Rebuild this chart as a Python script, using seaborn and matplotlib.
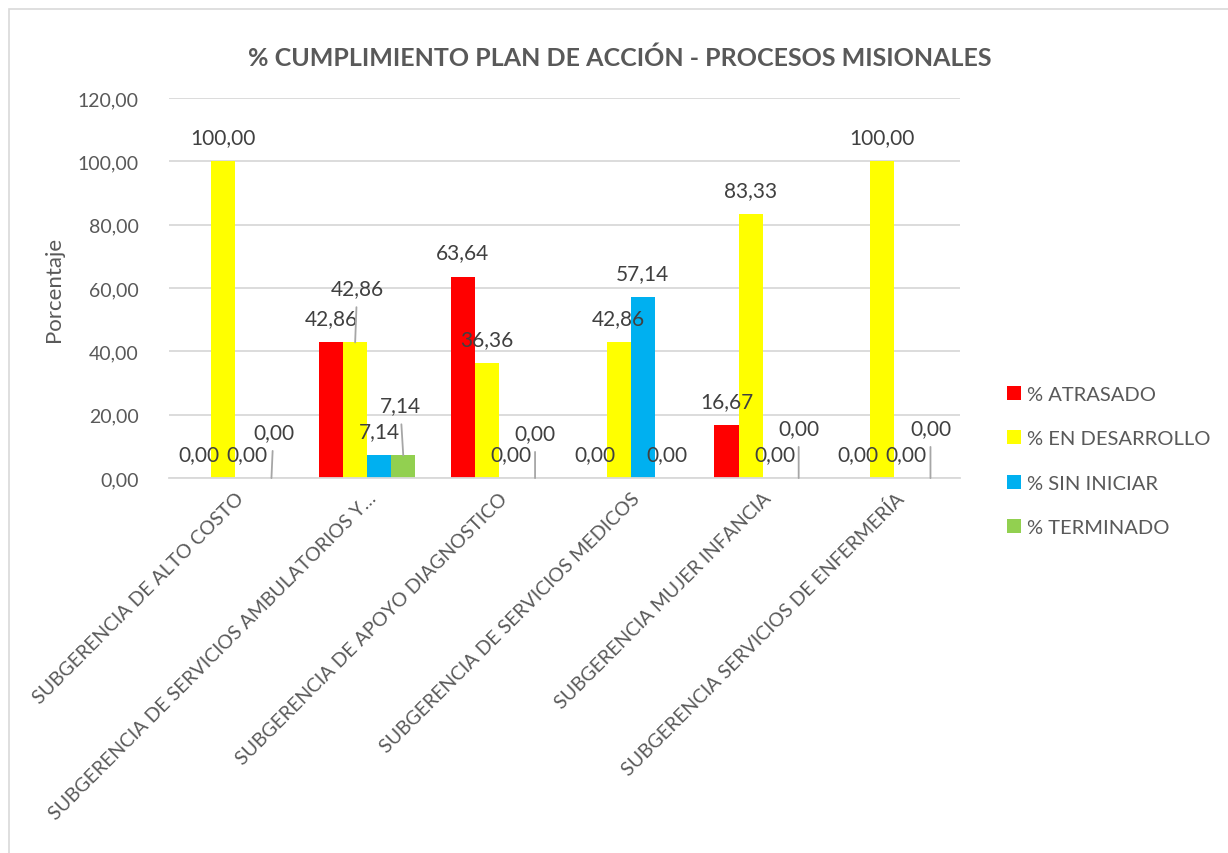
import pandas as pd
import seaborn as sns
import matplotlib.pyplot as plt
from matplotlib.patches import Rectangle

categorias = ['SUBGERENCIA DE ALTO COSTO',
              'SUBGERENCIA DE SERVICIOS AMBULATORIOS Y…',
              'SUBGERENCIA DE APOYO DIAGNOSTICO',
              'SUBGERENCIA DE SERVICIOS MEDICOS',
              'SUBGERENCIA MUJER INFANCIA',
              'SUBGERENCIA SERVICIOS DE ENFERMERÍA']
series = ['% ATRASADO', '% EN DESARROLLO', '% SIN INICIAR', '% TERMINADO']
atrasado = [0.00, 42.86, 63.64, 0.00, 16.67, 0.00]
en_desarrollo = [100.00, 42.86, 36.36, 42.86, 83.33, 100.00]
sin_iniciar = [0.00, 7.14, 0.00, 57.14, 0.00, 0.00]
terminado = [0.00, 7.14, 0.00, 0.00, 0.00, 0.00]
colores = ['#FF0000', '#FFFF00', '#00B0F0', '#92D050']

sns.set_style('white')
plt.rcParams['font.family'] = ['Lato', 'DejaVu Sans']

rows = []
for s, vals in zip(series, [atrasado, en_desarrollo, sin_iniciar, terminado]):
    for c, v in zip(categorias, vals):
        rows.append({'cat': c, 'serie': s, 'valor': v})
df = pd.DataFrame(rows)

fig = plt.figure(figsize=(12.28, 8.54), dpi=100)
ax = fig.add_axes([0.138, 0.439, 0.644, 0.445])

sns.barplot(data=df, x='cat', y='valor', hue='serie', palette=colores,
            width=0.73, saturation=1, errorbar=None, ax=ax, linewidth=0)

ax.set_ylim(0, 120)
ax.set_yticks(range(0, 121, 20))
ax.set_yticklabels(['%d,00' % t for t in range(0, 121, 20)], fontsize=14, color='#595959')
ax.yaxis.grid(True, color='#D9D9D9', linewidth=1.3)
ax.set_axisbelow(True)
for sp in ['top', 'right', 'left']:
    ax.spines[sp].set_visible(False)
ax.spines['bottom'].set_color('#D9D9D9')
ax.spines['bottom'].set_linewidth(1.3)
ax.tick_params(axis='both', length=0)
ax.tick_params(axis='y', pad=22)
ax.set_xlabel('')
ax.set_ylabel('Porcentaje', fontsize=16, color='#595959', labelpad=10)
ax.set_xticks(range(len(categorias)))
ax.set_xticklabels(categorias, rotation=45, ha='right', rotation_mode='anchor',
                   fontsize=14, color='#595959')
ax.tick_params(axis='x', pad=8)

# etiquetas de datos; algunas desplazadas con linea guia
desplazadas = {(3, 0): (2, 46), (1, 1): (2, 54), (3, 1): (-3, 50),
               (3, 2): (0, 45), (3, 4): (0, 50), (3, 5): (0, 50)}
for si, cont in enumerate(ax.containers):
    for ci, bar in enumerate(cont):
        x = bar.get_x() + bar.get_width() / 2
        h = bar.get_height()
        txt = ('%.2f' % h).replace('.', ',')
        if (si, ci) in desplazadas:
            dx, dy = desplazadas[(si, ci)]
            ax.annotate(txt, xy=(x, h), xytext=(dx, dy), textcoords='offset pixels',
                        ha='center', va='center', fontsize=15, color='#404040',
                        arrowprops=dict(arrowstyle='-', color='#A6A6A6', lw=1.3,
                                        shrinkA=4, shrinkB=0))
        else:
            ax.annotate(txt, xy=(x, h), xytext=(0, 24), textcoords='offset pixels',
                        ha='center', va='center', fontsize=15, color='#404040')

leg = ax.legend(loc='center left', bbox_to_anchor=(0.805, 0.459),
                bbox_transform=fig.transFigure, frameon=False, fontsize=14.5,
                handlelength=0.7, handleheight=0.7, handletextpad=0.3,
                labelspacing=1.35)
for t in leg.get_texts():
    t.set_color('#595959')

fig.suptitle('% CUMPLIMIENTO PLAN DE ACCIÓN - PROCESOS MISIONALES', x=0.505, y=0.946,
             fontsize=18, fontweight='bold', color='#595959')

fig.patches.append(Rectangle((0.007, -0.01), 1.1, 0.998, transform=fig.transFigure,
                             fill=False, edgecolor='#D9D9D9', linewidth=1.2))

fig.savefig('out.png', dpi=100)
